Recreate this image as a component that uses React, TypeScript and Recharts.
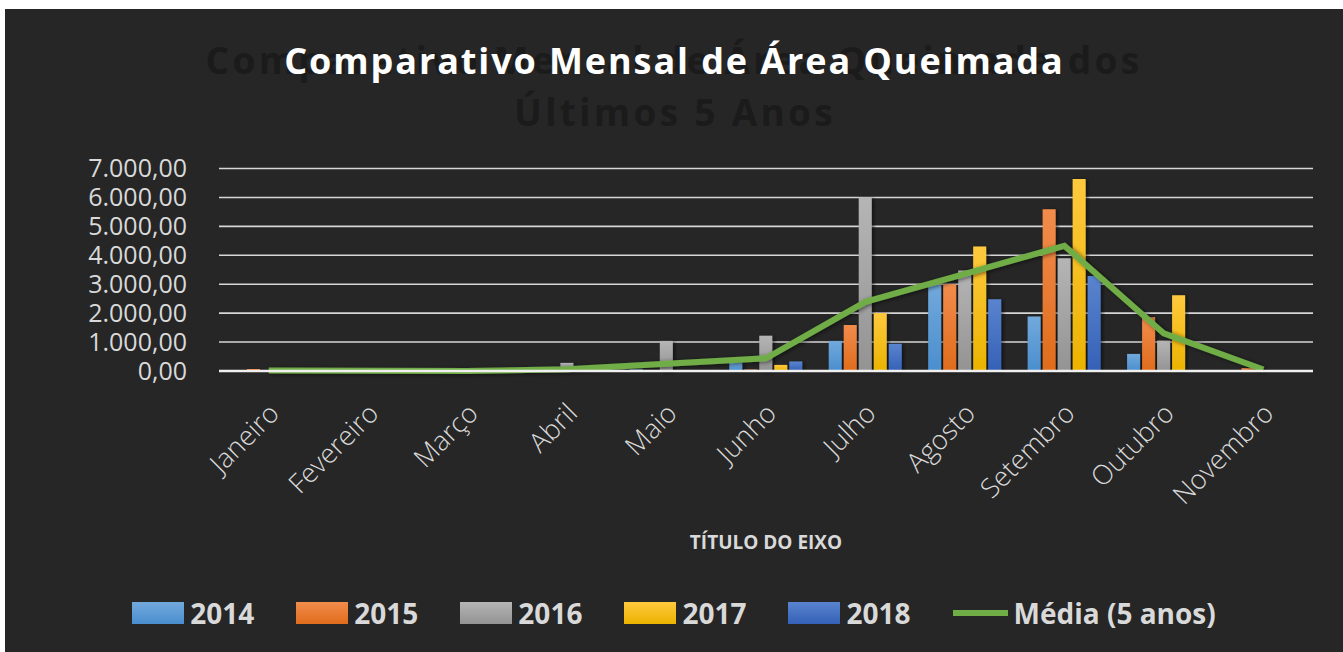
import React from 'react';
import { ComposedChart, Bar, Line, XAxis, YAxis, CartesianGrid, Legend } from 'recharts';

const months = ['Janeiro', 'Fevereiro', 'Março', 'Abril', 'Maio', 'Junho', 'Julho', 'Agosto', 'Setembro', 'Outubro', 'Novembro'];
const y2014 = [0, 0, 0, 0, 60, 290, 1040, 2970, 1880, 590, 0];
const y2015 = [70, 0, 0, 0, 0, 50, 1590, 3000, 5590, 1860, 100];
const y2016 = [0, 0, 0, 280, 1040, 1220, 6000, 3470, 3900, 1050, 0];
const y2017 = [0, 0, 0, 0, 0, 210, 2000, 4300, 6640, 2620, 0];
const y2018 = [0, 0, 0, 0, 0, 330, 940, 2480, 3280, 0, 0];
const media = [20, 10, 0, 60, 250, 440, 2390, 3360, 4330, 1300, 50];
const yTicks = [0, 1000, 2000, 3000, 4000, 5000, 6000, 7000];

const data = months.map((m, i) => ({
  month: m,
  a2014: y2014[i],
  a2015: y2015[i],
  a2016: y2016[i],
  a2017: y2017[i],
  a2018: y2018[i],
  media: media[i],
}));

const series = [
  { key: 'a2014', name: '2014', top: '#72A9DC', bottom: '#4A8ECE' },
  { key: 'a2015', name: '2015', top: '#F18C4C', bottom: '#E06C1C' },
  { key: 'a2016', name: '2016', top: '#B5B5B5', bottom: '#939393' },
  { key: 'a2017', name: '2017', top: '#FFC93E', bottom: '#EBB300' },
  { key: 'a2018', name: '2018', top: '#5A84CF', bottom: '#3461B7' },
];

const fmt = (v: number) => {
  const s = Math.round(v).toString().replace(/\B(?=(\d{3})+(?!\d))/g, '.');
  return s + ',00';
};

const FONT = '"Open Sans", "Noto Sans", sans-serif';

const XTick = (props: any) => {
  const { x, y, payload } = props;
  const ax = x + 12;
  const ay = y + 36;
  return (
    <text
      x={ax}
      y={ay}
      transform={`rotate(-45 ${ax} ${ay})`}
      textAnchor="end"
      fill="#D9D9D9"
      fontSize={27}
      fontWeight={300}
      fontFamily={FONT}
    >
      {payload.value}
    </text>
  );
};

const LegendContent = () => {
  const item = (sym: React.ReactNode, label: string) => (
    <div key={label} style={{ display: 'flex', alignItems: 'center' }}>
      {sym}
      <span style={{ marginLeft: 6, color: '#D9D9D9', fontWeight: 700, fontSize: 28, fontFamily: FONT, lineHeight: '30px' }}>{label}</span>
    </div>
  );
  return (
    <div style={{ display: 'flex', justifyContent: 'center', gap: 42, alignItems: 'center', height: 30 }}>
      {series.map((s) =>
        item(
          <div style={{ width: 52, height: 22, background: `linear-gradient(${s.top}, ${s.bottom})` }} />,
          s.name
        )
      )}
      {item(<div style={{ width: 55, height: 6, background: '#70AD47' }} />, 'Média (5 anos)')}
    </div>
  );
};

export default function App() {
  return (
    <div style={{ position: 'absolute', left: 5, top: 9, width: 1338, height: 643, background: '#262626', overflow: 'hidden' }}>
      <svg width={1338} height={140} style={{ position: 'absolute', left: 0, top: 0 }}>
        <text x={669} y={65} textAnchor="middle" fill="#1B1B1B" fontSize={37} fontWeight={700} fontFamily={FONT} letterSpacing={3.3}>
          Comparativo Mensal de Área Queimada dos
        </text>
        <text x={670} y={117} textAnchor="middle" fill="#1B1B1B" fontSize={37} fontWeight={700} fontFamily={FONT} letterSpacing={3.3}>
          Últimos 5 Anos
        </text>
        <text x={669.5} y={65} textAnchor="middle" fill="#FFFFFF" fontSize={36} fontWeight={700} fontFamily={FONT} letterSpacing={1.9}>
          Comparativo Mensal de Área Queimada
        </text>
      </svg>
      <div style={{ position: 'absolute', left: 0, top: 0 }}>
        <ComposedChart
          width={1338}
          height={643}
          data={data}
          margin={{ top: 159.5, right: 30, bottom: 91, left: 0 }}
          barSize={13}
          barGap={2}
        >
          <defs>
            {series.map((s) => (
              <linearGradient key={s.key} id={`g-${s.key}`} x1="0" y1="0" x2="0" y2="1">
                <stop offset="0%" stopColor={s.top} />
                <stop offset="100%" stopColor={s.bottom} />
              </linearGradient>
            ))}
            <filter id="shadow" x="-30%" y="-10%" width="160%" height="130%">
              <feDropShadow dx="2" dy="1" stdDeviation="2" floodColor="#000" floodOpacity="0.55" />
            </filter>
          </defs>
          <CartesianGrid vertical={false} stroke="#D6D6D6" strokeWidth={1.6} />
          <XAxis
            dataKey="month"
            height={190}
            axisLine={{ stroke: '#F0F0F0', strokeWidth: 2.5 }}
            tickLine={false}
            interval={0}
            tick={<XTick />}
            label={{ value: 'TÍTULO DO EIXO', position: 'insideBottom', offset: 12, fill: '#D9D9D9', fontSize: 19, fontWeight: 700, fontFamily: FONT }}
          />
          <YAxis
            width={214}
            domain={[0, 7000]}
            ticks={yTicks}
            interval={0}
            axisLine={false}
            tickLine={false}
            tickSize={0}
            tickMargin={32}
            tickFormatter={fmt}
            tick={{ fill: '#D9D9D9', fontSize: 25, fontFamily: FONT }}
          />
          {series.map((s) => (
            <Bar key={s.key} dataKey={s.key} name={s.name} fill={`url(#g-${s.key})`} filter="url(#shadow)" isAnimationActive={false} />
          ))}
          <Line
            dataKey="media"
            name="Média (5 anos)"
            type="linear"
            stroke="#70AD47"
            strokeWidth={6}
            dot={false}
            activeDot={false}
            filter="url(#shadow)"
            isAnimationActive={false}
          />
          <Legend
            layout="horizontal"
            verticalAlign="middle"
            align="center"
            content={<LegendContent />}
            wrapperStyle={{ top: 589, left: 0, width: 1338 }}
          />
        </ComposedChart>
      </div>
    </div>
  );
}
